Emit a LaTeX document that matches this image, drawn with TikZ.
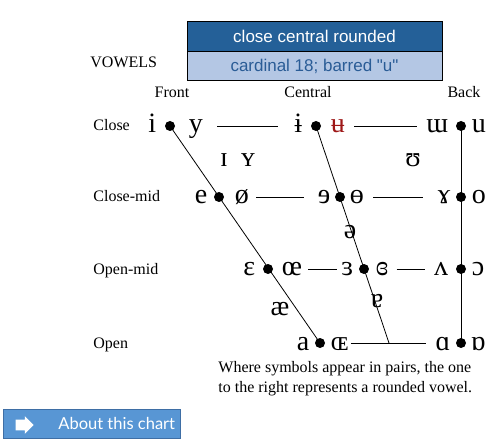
\documentclass[tikz,border=0pt]{standalone}
\usepackage{fontspec}
\setmainfont{Liberation Serif}
\newfontfamily\boxfont{Liberation Sans}
\newfontfamily\btnfont{Lato}
\usepackage{tikz}
\usetikzlibrary{positioning, shapes.arrows}
\definecolor{boxdark}{RGB}{36,96,152}
\definecolor{boxlight}{RGB}{180,199,228}
\definecolor{boxtext}{RGB}{42,92,150}
\definecolor{btnblue}{RGB}{88,150,212}
\definecolor{btnedge}{RGB}{62,110,165}
\definecolor{ipared}{RGB}{158,24,24}

\begin{document}
\begin{tikzpicture}[x=1pt,y=-1pt,line width=0.8pt,
  vdot/.style={circle, fill=black, inner sep=0pt, minimum size=10pt},
  vsym/.style={inner sep=0pt, font=\fontsize{28}{28}\selectfont},
  lab/.style={inner sep=0pt, font=\fontsize{16}{20}\selectfont},
  vbox/.style={draw=black, line width=0.6pt, minimum width=255pt, minimum height=29.5pt, inner sep=0pt, font=\boxfont\fontsize{17}{17}\selectfont},
  ]
  \useasboundingbox (0,0) rectangle (491,444);

  % title box
  \node[vbox, fill=boxdark, text=white] (vname) at (314.5,36.5) {close central rounded};
  \node[vbox, fill=boxlight, text=boxtext] (vdesc) at (314.5,66) {cardinal 18; barred "u"};

  % headings
  \node[lab, anchor=base west] (vowels) at (90,68) {VOWELS};
  \node[lab, anchor=base] (front) at (172,98) {Front};
  \node[lab, anchor=base] (central) at (308,98) {Central};
  \node[lab, anchor=base] (back) at (464,98) {Back};
  \node[lab, anchor=base west] (close) at (93,131) {Close};
  \node[lab, anchor=base west] (closemid) at (93,202) {Close-mid};
  \node[lab, anchor=base west] (openmid) at (93,274) {Open-mid};
  \node[lab, anchor=base west] (open) at (93,348) {Open};

  % vowel pairs: name/x/y/left/right/gap left/gap right
  \foreach \n/\x/\y/\lft/\rgt/\gl/\gr in {
      cf/170/126/i/y/8/13, cc/316/126/ɨ/{\color{ipared}ʉ}/8/9, cb/461/126/ɯ/u/7/5,
      mf/219/197/e/ø/6/10, mc/340/197/ɘ/ɵ/4/4, mb/461/197/ɤ/o/5/5,
      of/268/269/ɛ/œ/7/8, oc/364/269/ɜ/ɞ/5/6, ob/461/269/ʌ/ɔ/7/5,
      af/320/343/a/ɶ/5/5, ab/461/343/ɑ/ɒ/5/4} {
    \node[vdot] (d\n) at (\x,\y) {};
    \node[vsym, anchor=base east] (l\n) at ([xshift=-\gl pt, yshift=-7pt]d\n.west) {\lft};
    \node[vsym, anchor=base west] (r\n) at ([xshift=\gr pt, yshift=-7pt]d\n.east) {\rgt};
  }

  % single symbols
  \node[vsym, anchor=base] (smi) at (224,167) {ɪ};
  \node[vsym, anchor=base] (smy) at (248,167) {ʏ};
  \node[vsym, anchor=base] (smu) at (413,167) {ʊ};
  \node[vsym, anchor=base] (schwa) at (350,239) {ə};
  \node[vsym, anchor=base] (ash) at (280,315) {æ};
  \node[vsym, anchor=base] (turna) at (377,307) {ɐ};

  % chart lines
  \coordinate (cend) at (389,343);
  \draw (dcf.center) -- (daf.center);
  \draw (dcc.center) -- (cend);
  \draw (dcb.center) -- (dab.center);
  \draw[shorten <=14pt, shorten >=16pt] (rcf.east |- dcf) -- (lcc.west |- dcc);
  \draw[shorten <=9pt, shorten >=9pt] (rcc.east |- dcc) -- (lcb.west |- dcb);
  \draw[shorten <=7pt, shorten >=13pt] (rmf.east |- dmf) -- (lmc.west |- dmc);
  \draw[shorten <=9pt, shorten >=14pt] (rmc.east |- dmc) -- (lmb.west |- dmb);
  \draw[shorten <=6pt, shorten >=4pt] (rof.east |- dof) -- (loc.west |- doc);
  \draw[shorten <=8pt, shorten >=9pt] (roc.east |- doc) -- (lob.west |- dob);
  \draw[shorten <=2pt, shorten >=9pt] (raf.east |- daf) -- (lab.west |- dab);

  % note
  \node[lab, anchor=north west, align=left] (note) at (218,361)
    {Where symbols appear in pairs, the one\\to the right represents a rounded vowel.};

  % button
  \node[draw=btnedge, fill=btnblue, minimum width=177pt, minimum height=29pt, inner sep=0pt] (about) at (91.5,423.5) {};
  \node[single arrow, fill=white, inner xsep=0pt, inner ysep=5pt, minimum height=18pt, single arrow head extend=3.5pt] (aboutarr) at (22,425) {};
  \node[anchor=base west, inner sep=0pt, text=white, font=\btnfont\fontsize{16.5}{17}\selectfont] (abouttxt) at (58,429) {About this chart};
\end{tikzpicture}
\end{document}
